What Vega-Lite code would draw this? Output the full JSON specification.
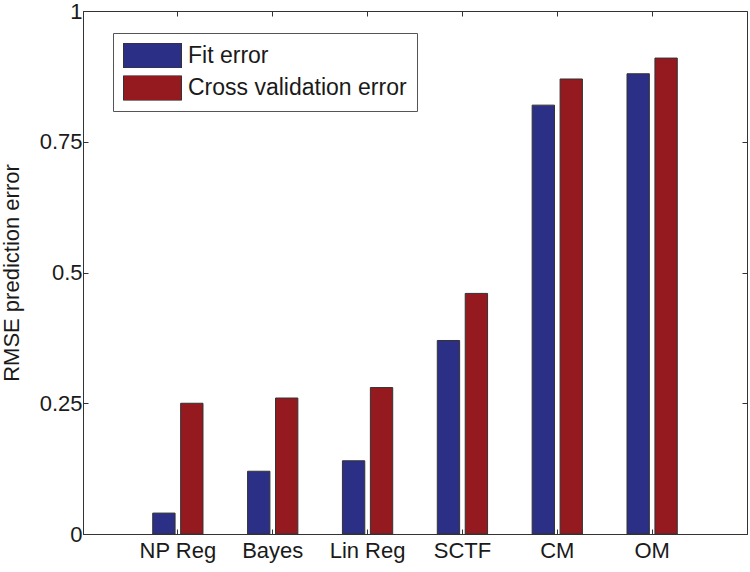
{
  "$schema": "https://vega.github.io/schema/vega-lite/v6.json",
  "width": 664,
  "height": 523,
  "autosize": {"type": "none"},
  "padding": {"left": 83, "top": 11, "right": 3, "bottom": 38},
  "background": "white",
  "data": {
    "values": [
      {"method": "NP Reg", "series": "Fit error", "value": 0.04},
      {"method": "NP Reg", "series": "Cross validation error", "value": 0.25},
      {"method": "Bayes", "series": "Fit error", "value": 0.12},
      {"method": "Bayes", "series": "Cross validation error", "value": 0.26},
      {"method": "Lin Reg", "series": "Fit error", "value": 0.14},
      {"method": "Lin Reg", "series": "Cross validation error", "value": 0.28},
      {"method": "SCTF", "series": "Fit error", "value": 0.37},
      {"method": "SCTF", "series": "Cross validation error", "value": 0.46},
      {"method": "CM", "series": "Fit error", "value": 0.82},
      {"method": "CM", "series": "Cross validation error", "value": 0.87},
      {"method": "OM", "series": "Fit error", "value": 0.88},
      {"method": "OM", "series": "Cross validation error", "value": 0.91}
    ]
  },
  "layer": [
    {
      "mark": {"type": "bar", "stroke": "#333333", "strokeWidth": 1},
      "encoding": {
        "x": {
          "field": "method",
          "type": "nominal",
          "sort": ["NP Reg", "Bayes", "Lin Reg", "SCTF", "CM", "OM"],
          "scale": {"paddingInner": 0.47, "paddingOuter": 0.735},
          "axis": {
            "orient": "bottom",
            "title": null,
            "labelAngle": 0,
            "labelFont": "Liberation Sans",
            "labelFontSize": 22,
            "labelColor": "#1a1a1a",
            "labelPadding": 11,
            "tickSize": -5,
            "tickColor": "#333333",
            "domainColor": "#333333",
            "domainWidth": 1
          }
        },
        "xOffset": {
          "field": "series",
          "type": "nominal",
          "sort": ["Fit error", "Cross validation error"],
          "scale": {"paddingInner": 0.2, "paddingOuter": 0}
        },
        "y": {
          "field": "value",
          "type": "quantitative",
          "scale": {"domain": [0, 1], "nice": false, "zero": true},
          "axis": {
            "orient": "left",
            "title": "RMSE prediction error",
            "titleFont": "Liberation Sans",
            "titleFontSize": 22,
            "titleFontWeight": "normal",
            "titleColor": "#1a1a1a",
            "titlePadding": 16,
            "values": [0, 0.25, 0.5, 0.75, 1],
            "labelExpr": "'' + datum.value",
            "labelFont": "Liberation Sans",
            "labelFontSize": 22,
            "labelColor": "#1a1a1a",
            "labelPadding": 6,
            "tickSize": -5,
            "tickColor": "#333333",
            "domainColor": "#333333",
            "grid": false
          }
        },
        "color": {
          "field": "series",
          "type": "nominal",
          "scale": {
            "domain": ["Fit error", "Cross validation error"],
            "range": ["#2b2f86", "#951a1f"]
          },
          "legend": {
            "orient": "none",
            "legendX": 30,
            "legendY": 22,
            "title": null,
            "padding": 10,
            "strokeColor": "#555555",
            "fillColor": "white",
            "labelFont": "Liberation Sans",
            "labelFontSize": 23,
            "labelColor": "#1a1a1a",
            "labelOffset": 6,
            "labelLimit": 400,
            "symbolType": "M-1,-0.43H1V0.43H-1Z",
            "symbolSize": 3364,
            "symbolStrokeColor": "#333333",
            "symbolStrokeWidth": 1,
            "symbolOpacity": 1,
            "clipHeight": 25,
            "rowPadding": 7.5
          }
        }
      }
    },
    {
      "mark": {"type": "bar", "opacity": 0},
      "encoding": {
        "x": {
          "field": "method",
          "type": "nominal",
          "sort": ["NP Reg", "Bayes", "Lin Reg", "SCTF", "CM", "OM"],
          "axis": {
            "orient": "top",
            "title": null,
            "labels": false,
            "domain": false,
            "tickSize": -5,
            "tickColor": "#333333"
          }
        },
        "y": {
          "field": "value",
          "type": "quantitative",
          "axis": {
            "orient": "right",
            "title": null,
            "labels": false,
            "domain": false,
            "values": [0, 0.25, 0.5, 0.75, 1],
            "tickSize": -5,
            "tickColor": "#333333",
            "grid": false
          }
        }
      }
    }
  ],
  "resolve": {"axis": {"x": "independent", "y": "independent"}},
  "config": {
    "view": {"stroke": "#333333", "strokeWidth": 1},
    "axis": {"grid": false}
  }
}
